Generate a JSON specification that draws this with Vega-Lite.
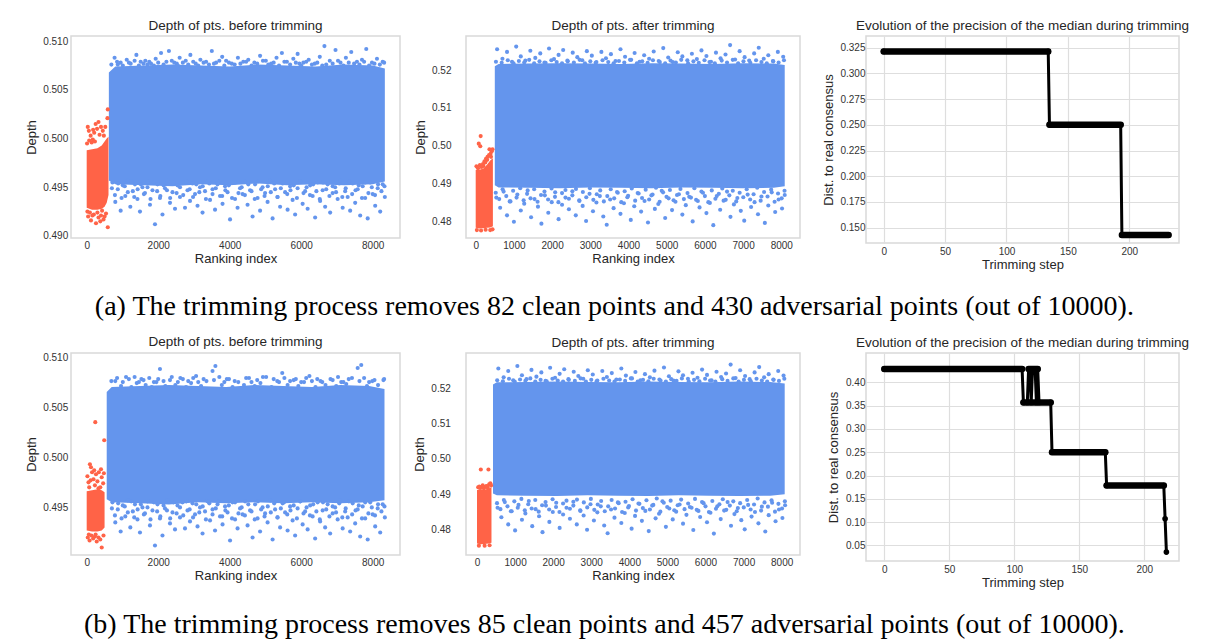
{
"$schema": "https://vega.github.io/schema/vega-lite/v6.json",
"background": "white",
"padding": {"left": 24, "top": 17, "right": 0, "bottom": 0},
"spacing": 12,
"config": {
 "view": {"stroke": "#d9d9d9", "strokeWidth": 1.5},
 "axis": {"domain": false, "ticks": false, "tickSize": 0, "grid": false, "labelFont": "Liberation Sans", "labelFontSize": 10, "labelColor": "#333333", "titleFont": "Liberation Sans", "titleFontSize": 13, "titleFontWeight": "normal", "titleColor": "#262626", "gridColor": "#dedede", "gridWidth": 1.2, "labelFlush": false},
 "title": {"font": "Liberation Sans", "fontSize": 13.5, "fontWeight": "normal", "color": "#262626", "offset": 4}
},
"datasets": {
 "bandA1": [{"x":620,"y":0.4957,"y2":0.5068},{"x":800,"y":0.4953,"y2":0.5074},{"x":1600,"y":0.4952,"y2":0.5075},{"x":2400,"y":0.4951,"y2":0.5076},{"x":3200,"y":0.4953,"y2":0.5075},{"x":4000,"y":0.4952,"y2":0.5074},{"x":4800,"y":0.4954,"y2":0.5076},{"x":5600,"y":0.4952,"y2":0.5075},{"x":6400,"y":0.4953,"y2":0.5074},{"x":7200,"y":0.4952,"y2":0.5076},{"x":8000,"y":0.4953,"y2":0.5075},{"x":8340,"y":0.4956,"y2":0.5072}],
 "redBandA1": [{"x":0,"y":0.4929,"y2":0.4988},{"x":150,"y":0.4927,"y2":0.4989},{"x":300,"y":0.4927,"y2":0.4990},{"x":420,"y":0.4928,"y2":0.4993},{"x":500,"y":0.4930,"y2":0.4997},{"x":560,"y":0.4934,"y2":0.5000},{"x":610,"y":0.4942,"y2":0.5002}],
 "upA1": [{"x":780,"y":0.5083},{"x":870,"y":0.5076},{"x":950,"y":0.5078},{"x":1120,"y":0.5081},{"x":1230,"y":0.5077},{"x":1390,"y":0.5086},{"x":1510,"y":0.5079},{"x":1640,"y":0.5080},{"x":1700,"y":0.5076},{"x":1800,"y":0.5077},{"x":1930,"y":0.5082},{"x":2080,"y":0.5088},{"x":2230,"y":0.5079},{"x":2300,"y":0.5090},{"x":2450,"y":0.5078},{"x":2520,"y":0.5077},{"x":2600,"y":0.5083},{"x":2770,"y":0.5080},{"x":2900,"y":0.5086},{"x":3050,"y":0.5077},{"x":3180,"y":0.5081},{"x":3340,"y":0.5079},{"x":3420,"y":0.5076},{"x":3500,"y":0.5090},{"x":3620,"y":0.5078},{"x":3790,"y":0.5084},{"x":3900,"y":0.5080},{"x":4060,"y":0.5077},{"x":4230,"y":0.5083},{"x":4300,"y":0.5077},{"x":4380,"y":0.5079},{"x":4520,"y":0.5081},{"x":4690,"y":0.5078},{"x":4850,"y":0.5085},{"x":5010,"y":0.5080},{"x":5080,"y":0.5076},{"x":5160,"y":0.5077},{"x":5310,"y":0.5083},{"x":5460,"y":0.5088},{"x":5600,"y":0.5079},{"x":5780,"y":0.5082},{"x":5900,"y":0.5087},{"x":5950,"y":0.5077},{"x":6060,"y":0.5078},{"x":6210,"y":0.5081},{"x":6380,"y":0.5077},{"x":6520,"y":0.5084},{"x":6650,"y":0.5095},{"x":6700,"y":0.5076},{"x":6800,"y":0.5080},{"x":6960,"y":0.5091},{"x":7100,"y":0.5078},{"x":7250,"y":0.5083},{"x":7400,"y":0.5089},{"x":7480,"y":0.5077},{"x":7560,"y":0.5079},{"x":7700,"y":0.5081},{"x":7820,"y":0.5092},{"x":7980,"y":0.5078},{"x":8120,"y":0.5082},{"x":8200,"y":0.5076},{"x":8280,"y":0.5079}],
 "topBefore": [{"x":690,"y":0.5076},{"x":850,"y":0.5079},{"x":1010,"y":0.5075},{"x":1180,"y":0.5078},{"x":1340,"y":0.5080},{"x":1460,"y":0.5075},{"x":1590,"y":0.5077},{"x":1750,"y":0.5079},{"x":1880,"y":0.5075},{"x":2000,"y":0.5078},{"x":2150,"y":0.5076},{"x":2380,"y":0.5080},{"x":2550,"y":0.5075},{"x":2690,"y":0.5078},{"x":2840,"y":0.5076},{"x":2980,"y":0.5079},{"x":3120,"y":0.5075},{"x":3270,"y":0.5078},{"x":3560,"y":0.5077},{"x":3710,"y":0.5080},{"x":3850,"y":0.5075},{"x":3980,"y":0.5078},{"x":4140,"y":0.5076},{"x":4460,"y":0.5079},{"x":4610,"y":0.5075},{"x":4770,"y":0.5077},{"x":4930,"y":0.5080},{"x":5230,"y":0.5078},{"x":5380,"y":0.5075},{"x":5530,"y":0.5079},{"x":5690,"y":0.5076},{"x":5850,"y":0.5078},{"x":6000,"y":0.5075},{"x":6140,"y":0.5079},{"x":6300,"y":0.5076},{"x":6450,"y":0.5078},{"x":6590,"y":0.5075},{"x":6880,"y":0.5077},{"x":7030,"y":0.5080},{"x":7180,"y":0.5075},{"x":7330,"y":0.5078},{"x":7630,"y":0.5076},{"x":7760,"y":0.5079},{"x":7900,"y":0.5075},{"x":8050,"y":0.5077},{"x":8320,"y":0.5078}],
 "edgeBefore": [{"x":705,"y":0.4949},{"x":790,"y":0.4942},{"x":880,"y":0.4954},{"x":975,"y":0.4939},{"x":1065,"y":0.4951},{"x":1150,"y":0.4945},{"x":1245,"y":0.4956},{"x":1330,"y":0.4940},{"x":1425,"y":0.4948},{"x":1515,"y":0.4953},{"x":1600,"y":0.4943},{"x":1700,"y":0.4950},{"x":1785,"y":0.4938},{"x":1880,"y":0.4955},{"x":1970,"y":0.4946},{"x":2060,"y":0.4941},{"x":2150,"y":0.4952},{"x":2245,"y":0.4947},{"x":2335,"y":0.4939},{"x":2425,"y":0.4955},{"x":2515,"y":0.4944},{"x":2610,"y":0.4950},{"x":2700,"y":0.4942},{"x":2790,"y":0.4956},{"x":2880,"y":0.4948},{"x":2975,"y":0.4940},{"x":3065,"y":0.4953},{"x":3150,"y":0.4945},{"x":3245,"y":0.4951},{"x":3335,"y":0.4938},{"x":3430,"y":0.4954},{"x":3520,"y":0.4943},{"x":3610,"y":0.4949},{"x":3700,"y":0.4956},{"x":3790,"y":0.4941},{"x":3880,"y":0.4947},{"x":3975,"y":0.4952},{"x":4065,"y":0.4939},{"x":4150,"y":0.4955},{"x":4245,"y":0.4944},{"x":4335,"y":0.4950},{"x":4425,"y":0.4942},{"x":4520,"y":0.4953},{"x":4610,"y":0.4946},{"x":4700,"y":0.4938},{"x":4790,"y":0.4956},{"x":4880,"y":0.4948},{"x":4975,"y":0.4941},{"x":5065,"y":0.4951},{"x":5150,"y":0.4945},{"x":5245,"y":0.4954},{"x":5335,"y":0.4940},{"x":5430,"y":0.4949},{"x":5520,"y":0.4955},{"x":5610,"y":0.4943},{"x":5700,"y":0.4947},{"x":5790,"y":0.4952},{"x":5880,"y":0.4939},{"x":5975,"y":0.4956},{"x":6065,"y":0.4944},{"x":6150,"y":0.4950},{"x":6245,"y":0.4942},{"x":6335,"y":0.4953},{"x":6425,"y":0.4946},{"x":6520,"y":0.4938},{"x":6610,"y":0.4955},{"x":6700,"y":0.4948},{"x":6790,"y":0.4941},{"x":6880,"y":0.4951},{"x":6975,"y":0.4945},{"x":7065,"y":0.4954},{"x":7150,"y":0.4940},{"x":7245,"y":0.4949},{"x":7335,"y":0.4956},{"x":7425,"y":0.4943},{"x":7520,"y":0.4947},{"x":7610,"y":0.4952},{"x":7700,"y":0.4939},{"x":7790,"y":0.4955},{"x":7880,"y":0.4944},{"x":7975,"y":0.4950},{"x":8065,"y":0.4942},{"x":8150,"y":0.4953},{"x":8245,"y":0.4946},{"x":8330,"y":0.4951}],
 "lowBefore": [{"x":720,"y":0.4955},{"x":800,"y":0.4935},{"x":870,"y":0.4948},{"x":950,"y":0.4926},{"x":1010,"y":0.4952},{"x":1080,"y":0.4941},{"x":1150,"y":0.4957},{"x":1220,"y":0.4930},{"x":1290,"y":0.4946},{"x":1350,"y":0.4953},{"x":1420,"y":0.4938},{"x":1490,"y":0.4925},{"x":1560,"y":0.4950},{"x":1630,"y":0.4944},{"x":1700,"y":0.4956},{"x":1770,"y":0.4932},{"x":1840,"y":0.4947},{"x":1910,"y":0.4912},{"x":1980,"y":0.4953},{"x":2050,"y":0.4939},{"x":2120,"y":0.4922},{"x":2190,"y":0.4949},{"x":2260,"y":0.4957},{"x":2330,"y":0.4934},{"x":2400,"y":0.4945},{"x":2470,"y":0.4928},{"x":2540,"y":0.4952},{"x":2610,"y":0.4940},{"x":2680,"y":0.4955},{"x":2750,"y":0.4929},{"x":2820,"y":0.4947},{"x":2890,"y":0.4936},{"x":2960,"y":0.4954},{"x":3030,"y":0.4943},{"x":3100,"y":0.4931},{"x":3170,"y":0.4950},{"x":3240,"y":0.4924},{"x":3310,"y":0.4946},{"x":3380,"y":0.4956},{"x":3450,"y":0.4937},{"x":3520,"y":0.4948},{"x":3590,"y":0.4927},{"x":3660,"y":0.4953},{"x":3730,"y":0.4941},{"x":3800,"y":0.4933},{"x":3870,"y":0.4951},{"x":3940,"y":0.4945},{"x":4010,"y":0.4917},{"x":4080,"y":0.4955},{"x":4150,"y":0.4938},{"x":4220,"y":0.4929},{"x":4290,"y":0.4949},{"x":4360,"y":0.4943},{"x":4430,"y":0.4956},{"x":4500,"y":0.4932},{"x":4570,"y":0.4947},{"x":4640,"y":0.4920},{"x":4710,"y":0.4953},{"x":4780,"y":0.4939},{"x":4850,"y":0.4926},{"x":4920,"y":0.4950},{"x":4990,"y":0.4944},{"x":5060,"y":0.4935},{"x":5130,"y":0.4957},{"x":5200,"y":0.4918},{"x":5270,"y":0.4948},{"x":5340,"y":0.4940},{"x":5410,"y":0.4930},{"x":5480,"y":0.4954},{"x":5550,"y":0.4945},{"x":5620,"y":0.4927},{"x":5690,"y":0.4951},{"x":5760,"y":0.4937},{"x":5830,"y":0.4922},{"x":5900,"y":0.4949},{"x":5970,"y":0.4956},{"x":6040,"y":0.4933},{"x":6110,"y":0.4946},{"x":6180,"y":0.4928},{"x":6250,"y":0.4952},{"x":6320,"y":0.4941},{"x":6390,"y":0.4919},{"x":6460,"y":0.4955},{"x":6530,"y":0.4936},{"x":6600,"y":0.4947},{"x":6670,"y":0.4930},{"x":6740,"y":0.4953},{"x":6810,"y":0.4924},{"x":6880,"y":0.4944},{"x":6950,"y":0.4950},{"x":7020,"y":0.4938},{"x":7090,"y":0.4957},{"x":7160,"y":0.4929},{"x":7230,"y":0.4946},{"x":7300,"y":0.4940},{"x":7370,"y":0.4926},{"x":7440,"y":0.4954},{"x":7510,"y":0.4934},{"x":7580,"y":0.4948},{"x":7650,"y":0.4921},{"x":7720,"y":0.4951},{"x":7790,"y":0.4939},{"x":7860,"y":0.4918},{"x":7930,"y":0.4955},{"x":8000,"y":0.4943},{"x":8070,"y":0.4931},{"x":8140,"y":0.4949},{"x":8210,"y":0.4925},{"x":8280,"y":0.4953},{"x":8340,"y":0.4940}],
 "redA1": [{"x":40,"y":0.4920},{"x":120,"y":0.4916},{"x":200,"y":0.4922},{"x":260,"y":0.4913},{"x":330,"y":0.4919},{"x":400,"y":0.4921},{"x":470,"y":0.4917},{"x":540,"y":0.4923},{"x":590,"y":0.4909},{"x":90,"y":0.4924},{"x":300,"y":0.4924},{"x":160,"y":0.4921},{"x":380,"y":0.4915},{"x":430,"y":0.4926},{"x":500,"y":0.4920},{"x":20,"y":0.4925},{"x":30,"y":0.5012},{"x":60,"y":0.5008},{"x":110,"y":0.5003},{"x":170,"y":0.4999},{"x":210,"y":0.5006},{"x":250,"y":0.5015},{"x":290,"y":0.5010},{"x":330,"y":0.5017},{"x":360,"y":0.5004},{"x":400,"y":0.5012},{"x":140,"y":0.4996},{"x":70,"y":0.4998},{"x":230,"y":0.4997},{"x":450,"y":0.5008},{"x":590,"y":0.5030},{"x":580,"y":0.5021},{"x":520,"y":0.5012},{"x":480,"y":0.5003},{"x":10,"y":0.4995},{"x":180,"y":0.5009}],
 "bandA2": [{"x":500,"y":0.4895,"y2":0.5210},{"x":600,"y":0.4889,"y2":0.5216},{"x":1400,"y":0.4888,"y2":0.5217},{"x":2200,"y":0.4887,"y2":0.5218},{"x":3000,"y":0.4889,"y2":0.5217},{"x":3800,"y":0.4888,"y2":0.5216},{"x":4600,"y":0.4887,"y2":0.5218},{"x":5400,"y":0.4889,"y2":0.5217},{"x":6200,"y":0.4888,"y2":0.5216},{"x":7000,"y":0.4887,"y2":0.5218},{"x":7800,"y":0.4888,"y2":0.5217},{"x":8090,"y":0.4892,"y2":0.5213}],
 "redBandA2": [{"x":0,"y":0.4782,"y2":0.4935},{"x":100,"y":0.4780,"y2":0.4936},{"x":200,"y":0.4781,"y2":0.4939},{"x":300,"y":0.4782,"y2":0.4950},{"x":380,"y":0.4783,"y2":0.4960},{"x":450,"y":0.4786,"y2":0.4966}],
 "upAfter": [{"x":560,"y":0.5255},{"x":700,"y":0.5230},{"x":820,"y":0.5248},{"x":950,"y":0.5222},{"x":1060,"y":0.5262},{"x":1180,"y":0.5236},{"x":1300,"y":0.5225},{"x":1430,"y":0.5251},{"x":1560,"y":0.5232},{"x":1690,"y":0.5244},{"x":1800,"y":0.5220},{"x":1920,"y":0.5257},{"x":2050,"y":0.5229},{"x":2170,"y":0.5240},{"x":2290,"y":0.5253},{"x":2410,"y":0.5223},{"x":2540,"y":0.5246},{"x":2660,"y":0.5234},{"x":2790,"y":0.5226},{"x":2910,"y":0.5250},{"x":3040,"y":0.5238},{"x":3160,"y":0.5221},{"x":3290,"y":0.5248},{"x":3410,"y":0.5231},{"x":3540,"y":0.5242},{"x":3660,"y":0.5224},{"x":3790,"y":0.5255},{"x":3910,"y":0.5235},{"x":4040,"y":0.5227},{"x":4160,"y":0.5245},{"x":4290,"y":0.5222},{"x":4410,"y":0.5239},{"x":4540,"y":0.5230},{"x":4660,"y":0.5249},{"x":4790,"y":0.5224},{"x":4910,"y":0.5258},{"x":5040,"y":0.5233},{"x":5160,"y":0.5221},{"x":5290,"y":0.5247},{"x":5410,"y":0.5236},{"x":5540,"y":0.5226},{"x":5660,"y":0.5243},{"x":5790,"y":0.5229},{"x":5910,"y":0.5252},{"x":6040,"y":0.5237},{"x":6160,"y":0.5222},{"x":6290,"y":0.5246},{"x":6410,"y":0.5231},{"x":6540,"y":0.5241},{"x":6660,"y":0.5266},{"x":6790,"y":0.5228},{"x":6910,"y":0.5250},{"x":7040,"y":0.5234},{"x":7160,"y":0.5225},{"x":7290,"y":0.5244},{"x":7410,"y":0.5259},{"x":7540,"y":0.5230},{"x":7660,"y":0.5239},{"x":7790,"y":0.5223},{"x":7910,"y":0.5248},{"x":8050,"y":0.5235}],
 "topAfter": [{"x":530,"y":0.5222},{"x":680,"y":0.5219},{"x":840,"y":0.5226},{"x":990,"y":0.5218},{"x":1130,"y":0.5224},{"x":1270,"y":0.5220},{"x":1400,"y":0.5227},{"x":1530,"y":0.5218},{"x":1670,"y":0.5223},{"x":1830,"y":0.5219},{"x":1980,"y":0.5226},{"x":2120,"y":0.5221},{"x":2260,"y":0.5218},{"x":2400,"y":0.5225},{"x":2570,"y":0.5220},{"x":2720,"y":0.5227},{"x":2860,"y":0.5218},{"x":3000,"y":0.5223},{"x":3140,"y":0.5219},{"x":3320,"y":0.5226},{"x":3470,"y":0.5221},{"x":3610,"y":0.5218},{"x":3750,"y":0.5224},{"x":3890,"y":0.5220},{"x":4070,"y":0.5227},{"x":4220,"y":0.5218},{"x":4360,"y":0.5223},{"x":4500,"y":0.5219},{"x":4640,"y":0.5226},{"x":4820,"y":0.5221},{"x":4960,"y":0.5218},{"x":5100,"y":0.5225},{"x":5240,"y":0.5220},{"x":5380,"y":0.5227},{"x":5560,"y":0.5218},{"x":5700,"y":0.5223},{"x":5840,"y":0.5219},{"x":5990,"y":0.5226},{"x":6120,"y":0.5221},{"x":6260,"y":0.5218},{"x":6440,"y":0.5225},{"x":6580,"y":0.5220},{"x":6730,"y":0.5227},{"x":6870,"y":0.5218},{"x":7010,"y":0.5223},{"x":7190,"y":0.5219},{"x":7340,"y":0.5226},{"x":7480,"y":0.5221},{"x":7620,"y":0.5218},{"x":7780,"y":0.5224},{"x":7930,"y":0.5220},{"x":8070,"y":0.5226}],
 "edgeAfter": [{"x":525,"y":0.4875},{"x":615,"y":0.4858},{"x":705,"y":0.4884},{"x":800,"y":0.4866},{"x":890,"y":0.4852},{"x":980,"y":0.4880},{"x":1070,"y":0.4862},{"x":1165,"y":0.4887},{"x":1255,"y":0.4855},{"x":1345,"y":0.4872},{"x":1435,"y":0.4860},{"x":1530,"y":0.4884},{"x":1620,"y":0.4851},{"x":1710,"y":0.4869},{"x":1800,"y":0.4878},{"x":1895,"y":0.4857},{"x":1985,"y":0.4886},{"x":2075,"y":0.4864},{"x":2165,"y":0.4850},{"x":2260,"y":0.4874},{"x":2350,"y":0.4882},{"x":2440,"y":0.4859},{"x":2530,"y":0.4868},{"x":2625,"y":0.4885},{"x":2715,"y":0.4853},{"x":2805,"y":0.4877},{"x":2895,"y":0.4863},{"x":2990,"y":0.4887},{"x":3080,"y":0.4856},{"x":3170,"y":0.4871},{"x":3260,"y":0.4881},{"x":3355,"y":0.4852},{"x":3445,"y":0.4866},{"x":3535,"y":0.4884},{"x":3625,"y":0.4860},{"x":3720,"y":0.4875},{"x":3810,"y":0.4850},{"x":3900,"y":0.4879},{"x":3990,"y":0.4867},{"x":4085,"y":0.4886},{"x":4175,"y":0.4854},{"x":4265,"y":0.4873},{"x":4355,"y":0.4861},{"x":4450,"y":0.4883},{"x":4540,"y":0.4857},{"x":4630,"y":0.4870},{"x":4720,"y":0.4888},{"x":4815,"y":0.4851},{"x":4905,"y":0.4876},{"x":4995,"y":0.4864},{"x":5085,"y":0.4882},{"x":5180,"y":0.4855},{"x":5270,"y":0.4869},{"x":5360,"y":0.4885},{"x":5450,"y":0.4858},{"x":5545,"y":0.4874},{"x":5635,"y":0.4862},{"x":5725,"y":0.4887},{"x":5815,"y":0.4853},{"x":5910,"y":0.4878},{"x":6000,"y":0.4866},{"x":6090,"y":0.4850},{"x":6180,"y":0.4881},{"x":6275,"y":0.4859},{"x":6365,"y":0.4872},{"x":6455,"y":0.4886},{"x":6545,"y":0.4856},{"x":6640,"y":0.4868},{"x":6730,"y":0.4880},{"x":6820,"y":0.4852},{"x":6910,"y":0.4875},{"x":7005,"y":0.4863},{"x":7095,"y":0.4884},{"x":7185,"y":0.4857},{"x":7275,"y":0.4871},{"x":7370,"y":0.4888},{"x":7460,"y":0.4854},{"x":7550,"y":0.4877},{"x":7640,"y":0.4865},{"x":7735,"y":0.4883},{"x":7825,"y":0.4851},{"x":7915,"y":0.4873},{"x":8010,"y":0.4860},{"x":8085,"y":0.4880}],
 "lowAfter": [{"x":540,"y":0.4862},{"x":640,"y":0.4835},{"x":730,"y":0.4878},{"x":820,"y":0.4815},{"x":910,"y":0.4852},{"x":1000,"y":0.4798},{"x":1090,"y":0.4870},{"x":1180,"y":0.4828},{"x":1270,"y":0.4846},{"x":1360,"y":0.4881},{"x":1450,"y":0.4810},{"x":1540,"y":0.4858},{"x":1630,"y":0.4838},{"x":1720,"y":0.4793},{"x":1810,"y":0.4868},{"x":1900,"y":0.4822},{"x":1990,"y":0.4850},{"x":2080,"y":0.4876},{"x":2170,"y":0.4805},{"x":2260,"y":0.4843},{"x":2350,"y":0.4862},{"x":2440,"y":0.4831},{"x":2530,"y":0.4879},{"x":2620,"y":0.4815},{"x":2710,"y":0.4855},{"x":2800,"y":0.4840},{"x":2890,"y":0.4800},{"x":2980,"y":0.4872},{"x":3070,"y":0.4826},{"x":3160,"y":0.4849},{"x":3250,"y":0.4866},{"x":3340,"y":0.4812},{"x":3430,"y":0.4790},{"x":3520,"y":0.4857},{"x":3610,"y":0.4834},{"x":3700,"y":0.4877},{"x":3790,"y":0.4819},{"x":3880,"y":0.4847},{"x":3970,"y":0.4863},{"x":4060,"y":0.4803},{"x":4150,"y":0.4839},{"x":4240,"y":0.4874},{"x":4330,"y":0.4825},{"x":4420,"y":0.4853},{"x":4510,"y":0.4796},{"x":4600,"y":0.4868},{"x":4690,"y":0.4832},{"x":4780,"y":0.4845},{"x":4870,"y":0.4880},{"x":4960,"y":0.4808},{"x":5050,"y":0.4860},{"x":5140,"y":0.4829},{"x":5230,"y":0.4851},{"x":5320,"y":0.4871},{"x":5410,"y":0.4817},{"x":5500,"y":0.4842},{"x":5590,"y":0.4864},{"x":5680,"y":0.4799},{"x":5770,"y":0.4856},{"x":5860,"y":0.4836},{"x":5950,"y":0.4875},{"x":6040,"y":0.4821},{"x":6130,"y":0.4848},{"x":6220,"y":0.4789},{"x":6310,"y":0.4866},{"x":6400,"y":0.4830},{"x":6490,"y":0.4854},{"x":6580,"y":0.4878},{"x":6670,"y":0.4811},{"x":6760,"y":0.4844},{"x":6850,"y":0.4861},{"x":6940,"y":0.4827},{"x":7030,"y":0.4801},{"x":7120,"y":0.4870},{"x":7210,"y":0.4837},{"x":7300,"y":0.4850},{"x":7390,"y":0.4818},{"x":7480,"y":0.4865},{"x":7570,"y":0.4795},{"x":7660,"y":0.4841},{"x":7750,"y":0.4876},{"x":7840,"y":0.4824},{"x":7930,"y":0.4857},{"x":8020,"y":0.4833},{"x":8090,"y":0.4869}],
 "redA2": [{"x":20,"y":0.4945},{"x":60,"y":0.4940},{"x":110,"y":0.4948},{"x":150,"y":0.4943},{"x":190,"y":0.4951},{"x":230,"y":0.4958},{"x":270,"y":0.4965},{"x":310,"y":0.4970},{"x":350,"y":0.4975},{"x":390,"y":0.4978},{"x":420,"y":0.4985},{"x":440,"y":0.4990},{"x":360,"y":0.4990},{"x":120,"y":0.4998},{"x":80,"y":0.5005},{"x":130,"y":0.5025},{"x":300,"y":0.4962},{"x":250,"y":0.4955},{"x":200,"y":0.4946},{"x":400,"y":0.4970},{"x":30,"y":0.4776},{"x":140,"y":0.4775},{"x":260,"y":0.4777},{"x":380,"y":0.4776},{"x":440,"y":0.4778}],
 "lineA3": [{"s":0,"d":0.3214},{"s":134,"d":0.3214},{"s":135,"d":0.25},{"s":193,"d":0.25},{"s":194,"d":0.1429},{"s":232,"d":0.1429}],
 "barsA3": [{"s":0,"s2":134,"d":0.3214},{"s":135,"s2":193,"d":0.25},{"s":194,"s2":232,"d":0.1429}],
 "bandB1": [{"x":560,"y":0.4958,"y2":0.5065},{"x":700,"y":0.4955,"y2":0.5070},{"x":1500,"y":0.4954,"y2":0.5071},{"x":2300,"y":0.4953,"y2":0.5072},{"x":3100,"y":0.4955,"y2":0.5071},{"x":3900,"y":0.4954,"y2":0.5070},{"x":4700,"y":0.4955,"y2":0.5072},{"x":5500,"y":0.4954,"y2":0.5071},{"x":6300,"y":0.4955,"y2":0.5070},{"x":7100,"y":0.4954,"y2":0.5072},{"x":7900,"y":0.4955,"y2":0.5071},{"x":8330,"y":0.4957,"y2":0.5068}],
 "redBandB1": [{"x":0,"y":0.4927,"y2":0.4966},{"x":150,"y":0.4926,"y2":0.4967},{"x":300,"y":0.4926,"y2":0.4968},{"x":420,"y":0.4927,"y2":0.4967},{"x":500,"y":0.4930,"y2":0.4965}],
 "upB1": [{"x":800,"y":0.5076},{"x":960,"y":0.5071},{"x":1100,"y":0.5080},{"x":1250,"y":0.5070},{"x":1400,"y":0.5074},{"x":1530,"y":0.5078},{"x":1650,"y":0.5072},{"x":1820,"y":0.5070},{"x":1950,"y":0.5075},{"x":2050,"y":0.5088},{"x":2200,"y":0.5071},{"x":2330,"y":0.5077},{"x":2480,"y":0.5072},{"x":2620,"y":0.5079},{"x":2780,"y":0.5070},{"x":2920,"y":0.5074},{"x":3060,"y":0.5081},{"x":3200,"y":0.5071},{"x":3350,"y":0.5076},{"x":3520,"y":0.5086},{"x":3600,"y":0.5091},{"x":3780,"y":0.5072},{"x":3920,"y":0.5078},{"x":4080,"y":0.5070},{"x":4240,"y":0.5075},{"x":4400,"y":0.5072},{"x":4540,"y":0.5079},{"x":4700,"y":0.5071},{"x":4860,"y":0.5074},{"x":5020,"y":0.5080},{"x":5170,"y":0.5070},{"x":5330,"y":0.5076},{"x":5470,"y":0.5084},{"x":5620,"y":0.5072},{"x":5790,"y":0.5077},{"x":5920,"y":0.5071},{"x":6080,"y":0.5075},{"x":6230,"y":0.5081},{"x":6400,"y":0.5070},{"x":6540,"y":0.5076},{"x":6680,"y":0.5072},{"x":6820,"y":0.5078},{"x":6980,"y":0.5071},{"x":7120,"y":0.5075},{"x":7260,"y":0.5073},{"x":7420,"y":0.5079},{"x":7580,"y":0.5089},{"x":7680,"y":0.5092},{"x":7840,"y":0.5071},{"x":7990,"y":0.5076},{"x":8150,"y":0.5072},{"x":8300,"y":0.5077}],
 "redB1": [{"x":20,"y":0.4981},{"x":50,"y":0.4975},{"x":90,"y":0.4993},{"x":120,"y":0.4990},{"x":150,"y":0.4985},{"x":190,"y":0.4978},{"x":230,"y":0.4972},{"x":260,"y":0.4983},{"x":300,"y":0.4976},{"x":340,"y":0.4985},{"x":380,"y":0.4970},{"x":420,"y":0.4980},{"x":460,"y":0.4974},{"x":480,"y":0.4984},{"x":70,"y":0.4970},{"x":210,"y":0.4987},{"x":240,"y":0.5035},{"x":490,"y":0.5017},{"x":330,"y":0.4969},{"x":110,"y":0.4977},{"x":400,"y":0.4988},{"x":30,"y":0.4920},{"x":80,"y":0.4917},{"x":130,"y":0.4922},{"x":180,"y":0.4919},{"x":230,"y":0.4921},{"x":280,"y":0.4916},{"x":330,"y":0.4920},{"x":380,"y":0.4918},{"x":420,"y":0.4910},{"x":470,"y":0.4922},{"x":60,"y":0.4923},{"x":250,"y":0.4923}],
 "bandB2": [{"x":420,"y":0.4902,"y2":0.5210},{"x":520,"y":0.4897,"y2":0.5216},{"x":1300,"y":0.4896,"y2":0.5217},{"x":2100,"y":0.4895,"y2":0.5218},{"x":2900,"y":0.4897,"y2":0.5217},{"x":3700,"y":0.4896,"y2":0.5216},{"x":4500,"y":0.4895,"y2":0.5218},{"x":5300,"y":0.4897,"y2":0.5217},{"x":6100,"y":0.4896,"y2":0.5216},{"x":6900,"y":0.4895,"y2":0.5218},{"x":7700,"y":0.4896,"y2":0.5217},{"x":8080,"y":0.4900,"y2":0.5213}],
 "redBandB2": [{"x":0,"y":0.4761,"y2":0.4912},{"x":100,"y":0.4759,"y2":0.4914},{"x":200,"y":0.4760,"y2":0.4913},{"x":300,"y":0.4761,"y2":0.4916},{"x":380,"y":0.4763,"y2":0.4920}],
 "redB2": [{"x":30,"y":0.4920},{"x":80,"y":0.4918},{"x":130,"y":0.4921},{"x":180,"y":0.4917},{"x":230,"y":0.4922},{"x":280,"y":0.4919},{"x":320,"y":0.4928},{"x":350,"y":0.4931},{"x":370,"y":0.4925},{"x":100,"y":0.4970},{"x":300,"y":0.4970},{"x":60,"y":0.4922},{"x":150,"y":0.4925},{"x":250,"y":0.4923},{"x":200,"y":0.4755},{"x":50,"y":0.4755},{"x":330,"y":0.4756}],
 "lineB3": [{"s":0,"d":0.4286},{"s":106,"d":0.4286},{"s":107,"d":0.3571},{"s":110,"d":0.3571},{"s":111,"d":0.4286},{"s":112,"d":0.4286},{"s":113,"d":0.3571},{"s":114,"d":0.4286},{"s":116,"d":0.4286},{"s":117,"d":0.3571},{"s":118,"d":0.4286},{"s":119,"d":0.3571},{"s":128,"d":0.3571},{"s":129,"d":0.25},{"s":170,"d":0.25},{"s":171,"d":0.1786},{"s":215,"d":0.1786},{"s":216,"d":0.1071},{"s":217,"d":0.0357}],
 "barsB3": [{"s":0,"s2":106,"d":0.4286},{"s":107,"s2":128,"d":0.3571},{"s":111,"s2":118,"d":0.4286},{"s":129,"s2":170,"d":0.25},{"s":171,"s2":215,"d":0.1786}]
},
"vconcat": [
 {
  "bounds": "flush",
  "spacing": 66,
  "title": {"text": "(a) The trimming process removes 82 clean points and 430 adversarial points (out of 10000).", "orient": "bottom", "anchor": "middle", "font": "Liberation Serif", "fontSize": 28, "fontWeight": "normal", "color": "black", "offset": 21, "dx": 7},
  "hconcat": [
   {
    "width": 329, "height": 202,
    "title": {"text": "Depth of pts. before trimming"},
    "encoding": {
     "x": {"field": "x", "type": "quantitative", "title": "Ranking index", "scale": {"domain": [-439, 8764], "nice": false, "zero": false}, "axis": {"values": [0, 2000, 4000, 6000, 8000], "format": "d", "labelPadding": 2.5, "titlePadding": 2}},
     "y": {"field": "y", "type": "quantitative", "title": "Depth", "scale": {"domain": [0.48979, 0.51054], "nice": false, "zero": false}, "axis": {"values": [0.49, 0.495, 0.5, 0.505, 0.51], "format": ".3f", "labelPadding": 3.3, "titlePadding": 4}}
    },
    "layer": [
     {"data": {"name": "bandA1"}, "mark": {"type": "area", "color": "#6495ED"}, "encoding": {"y2": {"field": "y2"}}},
     {"data": {"name": "upA1"}, "mark": {"type": "circle", "color": "#6495ED", "size": 17, "opacity": 1}},
     {"data": {"name": "topBefore"}, "mark": {"type": "circle", "color": "#6495ED", "size": 17, "opacity": 1}},
     {"data": {"name": "edgeBefore"}, "mark": {"type": "circle", "color": "#6495ED", "size": 17, "opacity": 1}},
     {"data": {"name": "lowBefore"}, "mark": {"type": "circle", "color": "#6495ED", "size": 17, "opacity": 1}},
     {"data": {"name": "redBandA1"}, "mark": {"type": "area", "color": "#FF6347"}, "encoding": {"y2": {"field": "y2"}}},
     {"data": {"name": "redA1"}, "mark": {"type": "circle", "color": "#FF6347", "size": 17, "opacity": 1}}
    ]
   },
   {
    "width": 334, "height": 202,
    "title": {"text": "Depth of pts. after trimming"},
    "encoding": {
     "x": {"field": "x", "type": "quantitative", "title": "Ranking index", "scale": {"domain": [-254, 8490], "nice": false, "zero": false}, "axis": {"values": [0, 1000, 2000, 3000, 4000, 5000, 6000, 7000, 8000], "format": "d", "labelPadding": 2.5, "titlePadding": 2}},
     "y": {"field": "y", "type": "quantitative", "title": "Depth", "scale": {"domain": [0.4755, 0.52901], "nice": false, "zero": false}, "axis": {"values": [0.48, 0.49, 0.5, 0.51, 0.52], "format": ".2f", "labelPadding": 15, "titlePadding": 4}}
    },
    "layer": [
     {"data": {"name": "bandA2"}, "mark": {"type": "area", "color": "#6495ED"}, "encoding": {"y2": {"field": "y2"}}},
     {"data": {"name": "upAfter"}, "mark": {"type": "circle", "color": "#6495ED", "size": 17, "opacity": 1}},
     {"data": {"name": "topAfter"}, "mark": {"type": "circle", "color": "#6495ED", "size": 17, "opacity": 1}},
     {"data": {"name": "edgeAfter"}, "mark": {"type": "circle", "color": "#6495ED", "size": 17, "opacity": 1}},
     {"data": {"name": "lowAfter"}, "mark": {"type": "circle", "color": "#6495ED", "size": 17, "opacity": 1}},
     {"data": {"name": "redBandA2"}, "mark": {"type": "area", "color": "#FF6347"}, "encoding": {"y2": {"field": "y2"}}},
     {"data": {"name": "redA2"}, "mark": {"type": "circle", "color": "#FF6347", "size": 17, "opacity": 1}}
    ]
   },
   {
    "width": 313, "height": 207,
    "title": {"text": "Evolution of the precision of the median during trimming"},
    "encoding": {
     "x": {"field": "s", "type": "quantitative", "title": "Trimming step", "scale": {"domain": [-14.4, 240.5], "nice": false, "zero": false}, "axis": {"values": [0, 50, 100, 150, 200], "grid": true, "labelPadding": 3, "titlePadding": 2}},
     "y": {"field": "d", "type": "quantitative", "title": "Dist. to real consensus", "scale": {"domain": [0.13513, 0.33637], "nice": false, "zero": false}, "axis": {"values": [0.15, 0.175, 0.2, 0.225, 0.25, 0.275, 0.3, 0.325], "format": ".3f", "grid": true, "labelPadding": 1, "titlePadding": 4}}
    },
    "layer": [
     {"data": {"name": "barsA3"}, "mark": {"type": "rule", "color": "black", "strokeWidth": 6.5, "strokeCap": "round"}, "encoding": {"x2": {"field": "s2"}}},
     {"data": {"name": "lineA3"}, "mark": {"type": "line", "color": "black", "strokeWidth": 3}, "encoding": {}},
     {"data": {"name": "lineA3"}, "mark": {"type": "circle", "color": "black", "size": 32, "opacity": 1}}
    ]
   }
  ]
 },
 {
  "bounds": "flush",
  "spacing": 66,
  "title": {"text": "(b) The trimming process removes 85 clean points and 457 adversarial points (out of 10000).", "orient": "bottom", "anchor": "middle", "font": "Liberation Serif", "fontSize": 28, "fontWeight": "normal", "color": "black", "offset": 21, "dx": -3},
  "hconcat": [
   {
    "width": 329, "height": 202,
    "title": {"text": "Depth of pts. before trimming"},
    "encoding": {
     "x": {"field": "x", "type": "quantitative", "title": "Ranking index", "scale": {"domain": [-439, 8764], "nice": false, "zero": false}, "axis": {"values": [0, 2000, 4000, 6000, 8000], "format": "d", "labelPadding": 2.5, "titlePadding": 2}},
     "y": {"field": "y", "type": "quantitative", "title": "Depth", "scale": {"domain": [0.49025, 0.5104], "nice": false, "zero": false}, "axis": {"values": [0.495, 0.5, 0.505, 0.51], "format": ".3f", "labelPadding": 3.3, "titlePadding": 4}}
    },
    "layer": [
     {"data": {"name": "bandB1"}, "mark": {"type": "area", "color": "#6495ED"}, "encoding": {"y2": {"field": "y2"}}},
     {"data": {"name": "upB1"}, "mark": {"type": "circle", "color": "#6495ED", "size": 17, "opacity": 1}},
     {"data": {"name": "topBefore"}, "mark": {"type": "circle", "color": "#6495ED", "size": 17, "opacity": 1}},
     {"data": {"name": "edgeBefore"}, "mark": {"type": "circle", "color": "#6495ED", "size": 17, "opacity": 1}},
     {"data": {"name": "lowBefore"}, "mark": {"type": "circle", "color": "#6495ED", "size": 17, "opacity": 1}},
     {"data": {"name": "redBandB1"}, "mark": {"type": "area", "color": "#FF6347"}, "encoding": {"y2": {"field": "y2"}}},
     {"data": {"name": "redB1"}, "mark": {"type": "circle", "color": "#FF6347", "size": 17, "opacity": 1}}
    ]
   },
   {
    "width": 334, "height": 202,
    "title": {"text": "Depth of pts. after trimming"},
    "encoding": {
     "x": {"field": "x", "type": "quantitative", "title": "Ranking index", "scale": {"domain": [-289, 8482], "nice": false, "zero": false}, "axis": {"values": [0, 1000, 2000, 3000, 4000, 5000, 6000, 7000, 8000], "format": "d", "labelPadding": 2.5, "titlePadding": 2}},
     "y": {"field": "y", "type": "quantitative", "title": "Depth", "scale": {"domain": [0.47286, 0.52988], "nice": false, "zero": false}, "axis": {"values": [0.48, 0.49, 0.5, 0.51, 0.52], "format": ".2f", "labelPadding": 15.7, "titlePadding": 4}}
    },
    "layer": [
     {"data": {"name": "bandB2"}, "mark": {"type": "area", "color": "#6495ED"}, "encoding": {"y2": {"field": "y2"}}},
     {"data": {"name": "upAfter"}, "mark": {"type": "circle", "color": "#6495ED", "size": 17, "opacity": 1}},
     {"data": {"name": "topAfter"}, "mark": {"type": "circle", "color": "#6495ED", "size": 17, "opacity": 1}},
     {"data": {"name": "edgeAfter"}, "mark": {"type": "circle", "color": "#6495ED", "size": 17, "opacity": 1}},
     {"data": {"name": "lowAfter"}, "mark": {"type": "circle", "color": "#6495ED", "size": 17, "opacity": 1}},
     {"data": {"name": "redBandB2"}, "mark": {"type": "area", "color": "#FF6347"}, "encoding": {"y2": {"field": "y2"}}},
     {"data": {"name": "redB2"}, "mark": {"type": "circle", "color": "#FF6347", "size": 17, "opacity": 1}}
    ]
   },
   {
    "width": 313, "height": 208,
    "title": {"text": "Evolution of the precision of the median during trimming"},
    "encoding": {
     "x": {"field": "s", "type": "quantitative", "title": "Trimming step", "scale": {"domain": [-14.1, 226.7], "nice": false, "zero": false}, "axis": {"values": [0, 50, 100, 150, 200], "grid": true, "labelPadding": 3, "titlePadding": 2}},
     "y": {"field": "d", "type": "quantitative", "title": "Dist. to real consensus", "scale": {"domain": [0.0165, 0.46313], "nice": false, "zero": false}, "axis": {"values": [0.05, 0.1, 0.15, 0.2, 0.25, 0.3, 0.35, 0.4], "format": ".2f", "grid": true, "labelPadding": 1, "titlePadding": 5}}
    },
    "layer": [
     {"data": {"name": "barsB3"}, "mark": {"type": "rule", "color": "black", "strokeWidth": 6.5, "strokeCap": "round"}, "encoding": {"x2": {"field": "s2"}}},
     {"data": {"name": "lineB3"}, "mark": {"type": "line", "color": "black", "strokeWidth": 3}, "encoding": {}},
     {"data": {"name": "lineB3"}, "mark": {"type": "circle", "color": "black", "size": 32, "opacity": 1}}
    ]
   }
  ]
 }
]
}
